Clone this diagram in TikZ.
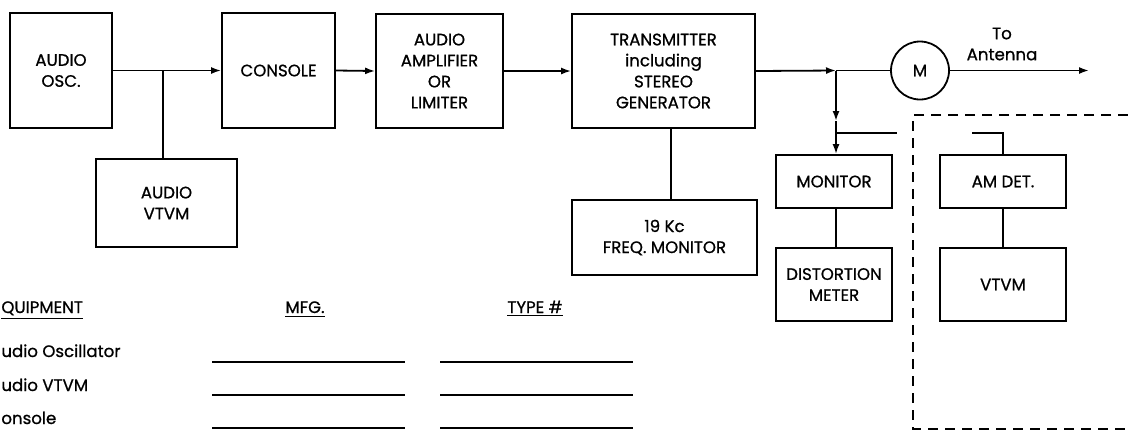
\documentclass[tikz,border=0pt]{standalone}
\usepackage{fontspec}
\setmainfont{Poppins}[FakeBold=0.9]
\usetikzlibrary{arrows.meta}
\begin{document}
\begin{tikzpicture}[x=0.5pt,y=-0.5pt,
  every node/.style={font=\fontsize{8.3}{10.5}\selectfont},
  box/.style={draw, line width=0.9pt, align=center, inner sep=0pt},
  wire/.style={line width=0.9pt},
  arr/.style={wire, -{Latex[length=5pt,width=3.5pt]}},
  blank/.style={line width=0.7pt},
  lbl/.style={inner sep=0pt, anchor=base}]
\useasboundingbox (0,0) rectangle (1128,430);

% top row
\node[box, minimum width=51pt, minimum height=57.5pt] (osc) at (61,70.5) {AUDIO\\OSC.};
\node[box, minimum width=70.5pt, minimum height=44pt] (avtvm) at (166.5,203) {AUDIO\\VTVM};
\node[box, minimum width=56.5pt, minimum height=57.5pt] (console) at (278.5,70.5) {CONSOLE};
\node[box, minimum width=63.5pt, minimum height=57pt] (amp) at (439.5,71) {AUDIO\\AMPLIFIER\\OR\\LIMITER};
\node[box, minimum width=91.5pt, minimum height=57pt] (tx) at (663.5,71) {TRANSMITTER\\including\\STEREO\\GENERATOR};
\node[box, minimum width=92.5pt, minimum height=37.5pt] (freq) at (664.5,237.5) {19 Kc\\FREQ. MONITOR};
\node[box, circle, minimum size=29pt] (M) at (920,70.5) {M};
\node[box, minimum width=58pt, minimum height=26.5pt] (mon) at (834,181.5) {MONITOR};
\node[box, minimum width=58pt, minimum height=36.5pt] (dist) at (834,284.5) {DISTORTION\\METER};
\node[box, minimum width=63pt, minimum height=26.5pt] (amdet) at (1003,181.5) {AM DET.};
\node[box, minimum width=63pt, minimum height=36.5pt] (vtvm) at (1003,284.5) {VTVM};
\node[align=center, inner sep=0pt] (ant) at (1002,44) {To\\Antenna};

% coordinates
\coordinate (j0) at (163,70.5);
\coordinate (j1) at (836,70.5);
\coordinate (jm) at (836,121);
\coordinate (j2) at (836,133);
\coordinate (e1) at (897,133);
\coordinate (s1) at (972,133);
\coordinate (s2) at (1003,133);
\coordinate (out) at (1089,70.5);
\coordinate (t1) at (671,128);

% connectors
\draw[arr] (osc.east) -- (console.west);
\draw[wire] (j0) -- (j0 |- avtvm.north);
\draw[arr] (console.east) -- (amp.west);
\draw[arr] (amp.east) -- (tx.west);
\draw[wire] (t1) -- (t1 |- freq.north);
\draw[arr] (tx.east) -- (j1);
\draw[wire] (j1) -- (M.west);
\draw[arr] (M.east) -- (out);
\draw[arr] (j1) -- (jm);
\draw[wire] (jm) -- (j2);
\draw[arr] (j2) -- (j2 |- mon.north);
\draw[wire] (j2) -- (e1);
\draw[wire] (s1) -- (s2) -- (amdet.north);
\draw[wire] (j2 |- mon.south) -- (j2 |- dist.north);
\draw[wire] (amdet.south) -- (vtvm.north);

% dashed enclosure
\draw[wire, dash pattern=on 5pt off 3.5pt] (1128,115) -- (913,115) -- (913,429) -- (1128,429);

% table
\node[lbl, anchor=base west] (hq) at (1,313) {\underline{QUIPMENT}};
\node[lbl] (hm) at (305,313) {\underline{MFG.}};
\node[lbl] (ht) at (535,313) {\underline{TYPE \#}};
\node[lbl, anchor=base west] (r1) at (1,357) {udio Oscillator};
\node[lbl, anchor=base west] (r2) at (1,391) {udio VTVM};
\node[lbl, anchor=base west] (r3) at (1,424) {onsole};
\draw[blank] (212,362) -- (405,362);
\draw[blank] (212,395) -- (405,395);
\draw[blank] (212,428) -- (405,428);
\draw[blank] (440,362) -- (633,362);
\draw[blank] (440,395) -- (633,395);
\draw[blank] (440,428) -- (633,428);
\end{tikzpicture}
\end{document}
